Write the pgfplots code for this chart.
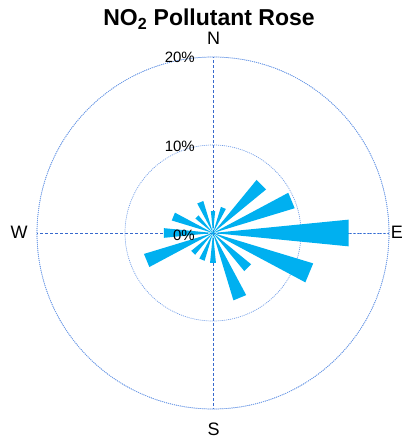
\documentclass[border=0pt]{standalone}
\usepackage{pgfplots}
\pgfplotsset{compat=1.18}
\usepgfplotslibrary{polar}
\usepackage{fontspec}
\setmainfont{Liberation Sans}
\definecolor{petal}{RGB}{0,176,240}
\definecolor{gridc}{RGB}{110,155,230}
\definecolor{crossc}{RGB}{55,105,205}
\begin{document}
\begin{tikzpicture}[x=1pt,y=1pt]
\useasboundingbox (0,0) rectangle (404,438);
\clip (0,0) rectangle (404,438);
\begin{polaraxis}[
  at={(213pt,205pt)}, anchor=origin,
  scale only axis, width=352pt, height=352pt,
  ymin=0, ymax=20,
  xtick={0,90,180,270}, xticklabels={},
  ytick={10,20}, yticklabels={},
  xmajorgrids, ymajorgrids,
  major tick length=0pt,
  x grid style={crossc, dash pattern=on 3pt off 2pt, line width=0.7pt},
  y grid style={gridc, dash pattern=on 1pt off 1pt, line width=0.7pt},
  axis line style={gridc, dash pattern=on 1pt off 1pt, line width=0.7pt},
]
% petals: angle (math, deg, 0 = East, counter-clockwise), radius in %
\addplot[fill=petal, draw=none] coordinates {(0,0) (84.375,2.5) (95.625,2.5)};     % N
\addplot[fill=petal, draw=none] coordinates {(0,0) (61.875,3.1) (73.125,3.1)};     % NNE
\addplot[fill=petal, draw=none] coordinates {(0,0) (39.375,7.8) (50.625,7.8)};     % NE
\addplot[fill=petal, draw=none] coordinates {(0,0) (16.875,9.7) (28.125,9.7)};     % ENE
\addplot[fill=petal, draw=none] coordinates {(0,0) (-5.625,15.5) (5.625,15.5)};    % E
\addplot[fill=petal, draw=none] coordinates {(0,0) (-28.125,11.9) (-16.875,11.9)}; % ESE
\addplot[fill=petal, draw=none] coordinates {(0,0) (-50.625,5.6) (-39.375,5.6)};   % SE
\addplot[fill=petal, draw=none] coordinates {(0,0) (-73.125,8.0) (-61.875,8.0)};   % SSE
\addplot[fill=petal, draw=none] coordinates {(0,0) (-95.625,3.4) (-84.375,3.4)};   % S
\addplot[fill=petal, draw=none] coordinates {(0,0) (-118.125,3.3) (-106.875,3.3)}; % SSW
\addplot[fill=petal, draw=none] coordinates {(0,0) (-140.625,3.2) (-129.375,3.2)}; % SW
\addplot[fill=petal, draw=none] coordinates {(0,0) (-163.125,8.2) (-151.875,8.2)}; % WSW
\addplot[fill=petal, draw=none] coordinates {(0,0) (174.375,5.6) (185.625,5.6)};   % W
\addplot[fill=petal, draw=none] coordinates {(0,0) (151.875,4.9) (163.125,4.9)};   % WNW
\addplot[fill=petal, draw=none] coordinates {(0,0) (129.375,2.6) (140.625,2.6)};   % NW
\addplot[fill=petal, draw=none] coordinates {(0,0) (106.875,3.8) (118.125,3.8)};   % NNW
\end{polaraxis}
% title
\node[anchor=base, inner sep=0pt, font=\fontsize{23}{27}\selectfont\bfseries] at (209,412) {NO\textsubscript{2} Pollutant Rose};
% compass labels
\node[anchor=base, inner sep=0pt, font=\fontsize{18}{21}\selectfont] at (213.5,393) {N};
\node[anchor=base, inner sep=0pt, font=\fontsize{18}{21}\selectfont] at (213.5,2.5) {S};
\node[anchor=base, inner sep=0pt, font=\fontsize{18}{21}\selectfont] at (19,199) {W};
\node[anchor=base east, inner sep=0pt, font=\fontsize{18}{21}\selectfont] at (403,199) {E};
% radius labels
\node[anchor=base east, inner sep=0pt, font=\fontsize{15}{18}\selectfont] at (195,375) {20\%};
\node[anchor=base east, inner sep=0pt, font=\fontsize{15}{18}\selectfont] at (195,286) {10\%};
\node[anchor=base east, inner sep=0pt, font=\fontsize{15}{18}\selectfont] at (195,197) {0\%};
\end{tikzpicture}
\end{document}
